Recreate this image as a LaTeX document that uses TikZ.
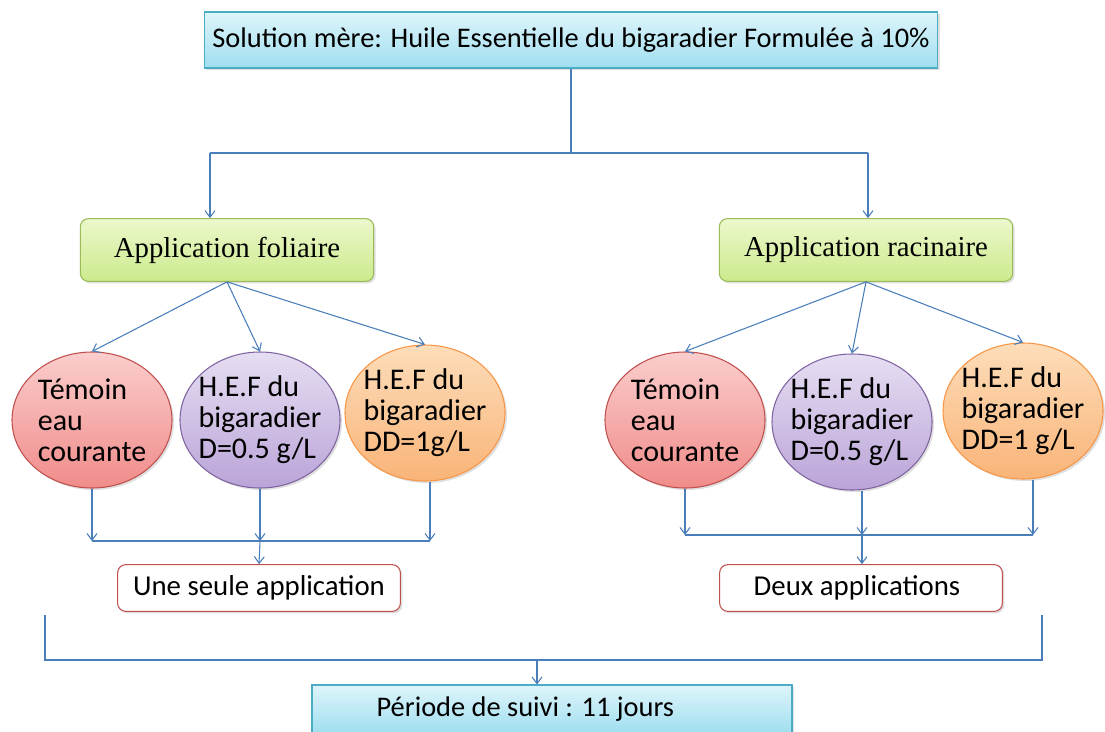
\documentclass[tikz,border=0pt]{standalone}
\usepackage{fontspec}
\setmainfont{Carlito}
\newfontfamily\serifbox{Liberation Serif}
\usetikzlibrary{shapes.geometric,shadows,arrows.meta}

\definecolor{linkblue}{RGB}{74,126,187}
\definecolor{cyanline}{RGB}{75,172,198}
\definecolor{greenline}{RGB}{155,187,89}
\definecolor{redline}{RGB}{192,80,77}
\definecolor{purpleline}{RGB}{128,100,162}
\definecolor{orangeline}{RGB}{247,150,70}

\tikzset{
  >={Straight Barb[length=5pt, width=7.5pt]},
  link/.style={draw=linkblue, line width=0.8pt},
  arr/.style={link, ->},
  boxshadow/.style={drop shadow={opacity=0.25, shadow xshift=1.5pt, shadow yshift=-1.5pt}},
  cyanbox/.style={draw=cyanline, line width=0.8pt, boxshadow,
    top color={rgb,255:red,222;green,245;blue,251}, bottom color={rgb,255:red,160;green,222;blue,240},
    minimum height=42pt, inner sep=0pt, font=\fontsize{21.3}{25}\selectfont},
  greenbox/.style={draw=greenline, line width=0.8pt, rounded corners=6pt, boxshadow,
    top color={rgb,255:red,236;green,248;blue,204}, bottom color={rgb,255:red,204;green,234;blue,140},
    minimum width=220pt, minimum height=47pt, inner sep=0pt, font=\serifbox\fontsize{21.6}{25}\selectfont},
  bubble/.style={ellipse, line width=0.8pt, boxshadow, minimum width=120pt, minimum height=102pt,
    inner xsep=-17pt, inner ysep=-5pt, align=left, font=\fontsize{22.5}{23.3}\selectfont},
  redbubble/.style={bubble, draw=redline,
    top color={rgb,255:red,250;green,205;blue,204}, bottom color={rgb,255:red,240;green,140;blue,138}},
  purplebubble/.style={bubble, draw=purpleline,
    top color={rgb,255:red,230;green,222;blue,242}, bottom color={rgb,255:red,186;green,164;blue,216}},
  orangebubble/.style={bubble, draw=orangeline,
    top color={rgb,255:red,253;green,221;blue,186}, bottom color={rgb,255:red,249;green,180;blue,120}},
  redbox/.style={draw=redline, line width=0.8pt, rounded corners=6pt, fill=white, boxshadow,
    minimum width=212pt, minimum height=35pt, inner sep=0pt, font=\fontsize{21.6}{25}\selectfont},
}

\begin{document}
\begin{tikzpicture}[x=0.75pt, y=-0.75pt]
  \useasboundingbox (0,0) rectangle (1105,731);
  % boxes
  \node[cyanbox, minimum width=550pt] (A0_0) at (571,40) {Solution mère: Huile Essentielle du bigaradier Formulée à 10\%};
  \node[greenbox] (A1_1) at (227,250) {Application foliaire};
  \node[greenbox] (A1_2) at (866,250) {Application racinaire};
  \node[redbubble] (A2_1) at (92,420) {Témoin\\eau\\courante};
  \node[purplebubble] (A2_2) at (260,420) {H.E.F du\\bigaradier\\D=0.5 g/L};
  \node[orangebubble] (A2_3) at (425,413) {H.E.F du\\bigaradier\\DD=1g/L};
  \node[redbubble] (A2_4) at (685,420) {Témoin\\eau\\courante};
  \node[purplebubble] (A2_5) at (852,422) {H.E.F du\\bigaradier\\D=0.5 g/L};
  \node[orangebubble] (A2_6) at (1023,411) {H.E.F du\\bigaradier\\DD=1 g/L};
  \node[redbox] (A3_1) at (259,588) {Une seule application};
  \node[redbox] (A3_2) at (861,588) {Deux applications\hspace*{6pt}};
  \node[cyanbox, minimum width=360pt, minimum height=36pt] (A4_0) at (552,709) {Période de suivi : 11 jours\hspace*{40pt}};
  % junctions
  \coordinate (J0_1) at (210,153);
  \coordinate (J0_2) at (868,153);
  \coordinate (J1_1) at (260,541);
  \coordinate (J1_2) at (862,535);
  \coordinate (J2_1) at (45,615);
  \coordinate (J2_2) at (1042,615);
  \coordinate (J2_0) at (537,660);
  % top split
  \draw[link] (A0_0.south) |- (J0_1);
  \draw[link] (A0_0.south) |- (J0_2);
  \draw[arr] (J0_1) -- (J0_1 |- A1_1.north);
  \draw[arr] (J0_2) -- (J0_2 |- A1_2.north);
  % fan out
  \foreach \s/\t in {A1_1/A2_1, A1_1/A2_2, A1_1/A2_3, A1_2/A2_4, A1_2/A2_5, A1_2/A2_6}
    \draw[arr] (\s.south) -- (\t.north);
  % gather left
  \foreach \e/\dx in {A2_1/0, A2_2/0, A2_3/5}
    \draw[arr] ([xshift=\dx*0.75pt]\e.south) -- ([xshift=\dx*0.75pt]\e.south |- J1_1);
  \draw[link] (A2_1.south |- J1_1) -- ([xshift=3.75pt]A2_3.south |- J1_1);
  \draw[arr] (J1_1) -- (A3_1.north);
  % gather right
  \foreach \e/\dx in {A2_4/0, A2_5/10, A2_6/10}
    \draw[arr] ([xshift=\dx*0.75pt]\e.south) -- ([xshift=\dx*0.75pt]\e.south |- J1_2);
  \draw[link] (A2_4.south |- J1_2) -- ([xshift=7.5pt]A2_6.south |- J1_2);
  \draw[arr] (J1_2) -- (J1_2 |- A3_2.north);
  % follow-up period
  \draw[link] (J2_1) |- (J2_0) -| (J2_2);
  \draw[arr] (J2_0) -- (J2_0 |- A4_0.north);
\end{tikzpicture}
\end{document}
